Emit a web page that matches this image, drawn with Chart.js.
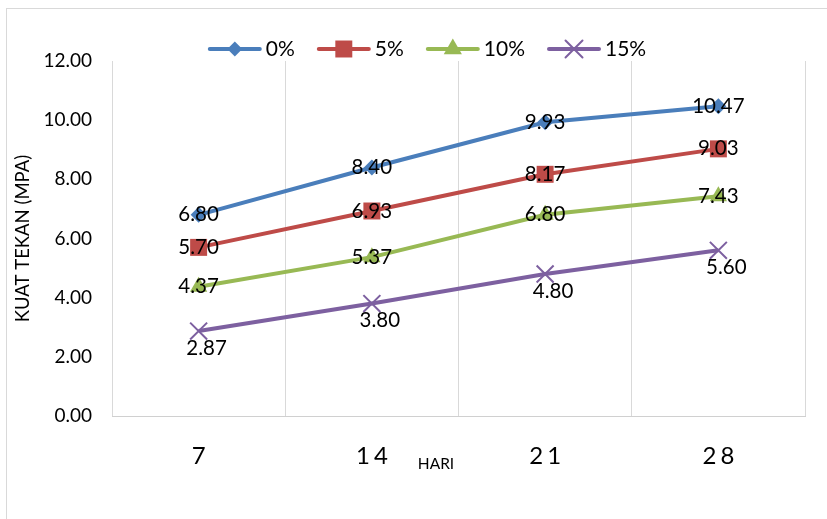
<!DOCTYPE html>
<html>
<head>
<meta charset="utf-8">
<script src="https://cdn.jsdelivr.net/npm/chart.js@4/dist/chart.umd.min.js"></script>
<style>
  html, body { margin: 0; padding: 0; background: #fff; }
  #wrap { width: 827px; height: 519px; }
</style>
</head>
<body>
<div id="wrap"><canvas id="c" width="827" height="519"></canvas></div>
<script>
// Compressive strength (MPa) by curing age (days) for four mix percentages
const days = ['7', '14', '21', '28'];
const seriesNames = ['0%', '5%', '10%', '15%'];
const mix0 = [6.80, 8.40, 9.93, 10.47];
const mix5 = [5.70, 6.93, 8.17, 9.03];
const mix10 = [4.37, 5.37, 6.80, 7.43];
const mix15 = [2.87, 3.80, 4.80, 5.60];
const yTicks = [0, 2, 4, 6, 8, 10, 12];

const FONT = 'Lato, "Open Sans", sans-serif';

const styles = [
  { color: '#4A7EBB', point: 'rectRot', radius: 8, legendRadius: 7.5, label: { dx: 0, dy: 0 } },
  { color: '#BE4B48', point: 'rect', radius: 12, legendRadius: 12, label: { dx: 0, dy: 0 } },
  { color: '#98B954', point: 'triangle', radius: 10, legendRadius: 10.5, label: { dx: 0, dy: 0 } },
  { color: '#7D60A0', point: 'crossRot', radius: 12, legendRadius: 12, label: { dx: 8, dy: 17 } }
];
const values = [mix0, mix5, mix10, mix15];

const datasets = values.map((v, i) => ({
  label: seriesNames[i],
  data: v,
  borderColor: styles[i].color,
  backgroundColor: styles[i].color,
  borderWidth: 4,
  tension: 0,
  pointStyle: styles[i].point,
  pointRadius: styles[i].radius,
  pointHoverRadius: styles[i].radius,
  pointBorderWidth: styles[i].point === 'crossRot' ? 2 : 0,
  pointBorderColor: styles[i].color,
  pointBackgroundColor: styles[i].color
}));

function drawMarker(ctx, style, r, x, y, color) {
  ctx.save();
  ctx.fillStyle = color;
  ctx.strokeStyle = color;
  ctx.lineWidth = 2;
  if (Chart.helpers && Chart.helpers.drawPoint) {
    Chart.helpers.drawPoint(ctx, { pointStyle: style, radius: r, rotation: 0, borderWidth: style === 'crossRot' ? 2 : 0 }, x, y);
  }
  ctx.restore();
}

const chartDecor = {
  id: 'chartDecor',
  beforeDraw(chart) {
    const ctx = chart.ctx;
    ctx.save();
    ctx.fillStyle = '#fff';
    ctx.fillRect(0, 0, chart.width, chart.height);
    ctx.strokeStyle = '#d9d9d9';
    ctx.lineWidth = 1;
    ctx.strokeRect(6.5, 8.5, 1000, 1000);
    ctx.restore();
  },
  afterDatasetsDraw(chart) {
    const ctx = chart.ctx;
    // value labels
    ctx.save();
    ctx.font = '20.5px ' + FONT;
    ctx.fillStyle = '#000';
    ctx.textAlign = 'center';
    ctx.textBaseline = 'middle';
    chart.data.datasets.forEach((ds, i) => {
      const meta = chart.getDatasetMeta(i);
      meta.data.forEach((pt, j) => {
        const off = styles[i].label;
        ctx.fillText(ds.data[j].toFixed(2), pt.x + off.dx, pt.y + off.dy);
      });
    });
    ctx.restore();
  },
  afterDraw(chart) {
    const ctx = chart.ctx;
    const xs = chart.scales.x;
    // category labels along the bottom
    ctx.save();
    ctx.font = '24px ' + FONT;
    ctx.fillStyle = '#000';
    ctx.textBaseline = 'middle';
    ctx.textAlign = 'left';
    const spacing = 4;
    days.forEach((d, i) => {
      const chars = d.split('');
      let w = 0;
      chars.forEach((ch, k) => { w += ctx.measureText(ch).width + (k < chars.length - 1 ? spacing : 0); });
      let x = xs.getPixelForValue(i) - w / 2;
      chars.forEach(ch => { ctx.fillText(ch, x, 456); x += ctx.measureText(ch).width + spacing; });
    });
    // x axis title
    ctx.font = '15.5px ' + FONT;
    ctx.textAlign = 'center';
    ctx.fillText('HARI', 436, 464);
    ctx.restore();

    // legend: line with marker, then name
    ctx.save();
    ctx.font = '21px ' + FONT;
    ctx.textBaseline = 'middle';
    ctx.textAlign = 'left';
    const lineLen = 54, gapText = 4, gapItem = 22, ly = 49;
    let total = 0;
    seriesNames.forEach((n, i) => {
      total += lineLen + gapText + ctx.measureText(n).width + (i < seriesNames.length - 1 ? gapItem : 0);
    });
    let x = 427 - total / 2;
    seriesNames.forEach((n, i) => {
      const st = styles[i];
      ctx.strokeStyle = st.color;
      ctx.lineWidth = 4;
      ctx.lineCap = 'round';
      ctx.beginPath();
      ctx.moveTo(x + 2, ly);
      ctx.lineTo(x + lineLen - 2, ly);
      ctx.stroke();
      drawMarker(ctx, st.point, st.legendRadius, x + lineLen / 2, ly, st.color);
      ctx.fillStyle = '#000';
      ctx.fillText(n, x + lineLen + gapText, ly);
      x += lineLen + gapText + ctx.measureText(n).width + gapItem;
    });
    ctx.restore();
  }
};

new Chart(document.getElementById('c'), {
  type: 'line',
  data: { labels: days, datasets },
  options: {
    responsive: false,
    animation: false,
    devicePixelRatio: 1,
    layout: { padding: { top: 61, right: 22, left: 0, bottom: 0 } },
    plugins: {
      legend: { display: false },
      tooltip: { enabled: false },
      title: { display: false }
    },
    scales: {
      x: {
        type: 'category',
        offset: true,
        grid: { display: true, offset: true, color: '#d9d9d9', lineWidth: 1, drawTicks: false },
        border: { display: true, color: '#d0d0d0', width: 1 },
        ticks: { display: false },
        afterFit(scale) { scale.height = 103; }
      },
      y: {
        min: 0,
        max: 12,
        afterBuildTicks(scale) { scale.ticks = yTicks.map(v => ({ value: v })); },
        grid: { display: false, drawTicks: false },
        border: { display: false },
        ticks: {
          padding: 20,
          color: '#000',
          font: { family: FONT, size: 19 },
          callback: v => Number(v).toFixed(2)
        },
        title: {
          display: true,
          text: 'KUAT TEKAN (MPA)',
          color: '#000',
          font: { family: FONT, size: 18.5 },
          padding: { top: 12, bottom: 0 }
        },
        afterFit(scale) { scale.width = 112; }
      }
    }
  },
  plugins: [chartDecor]
});
</script>
</body>
</html>
